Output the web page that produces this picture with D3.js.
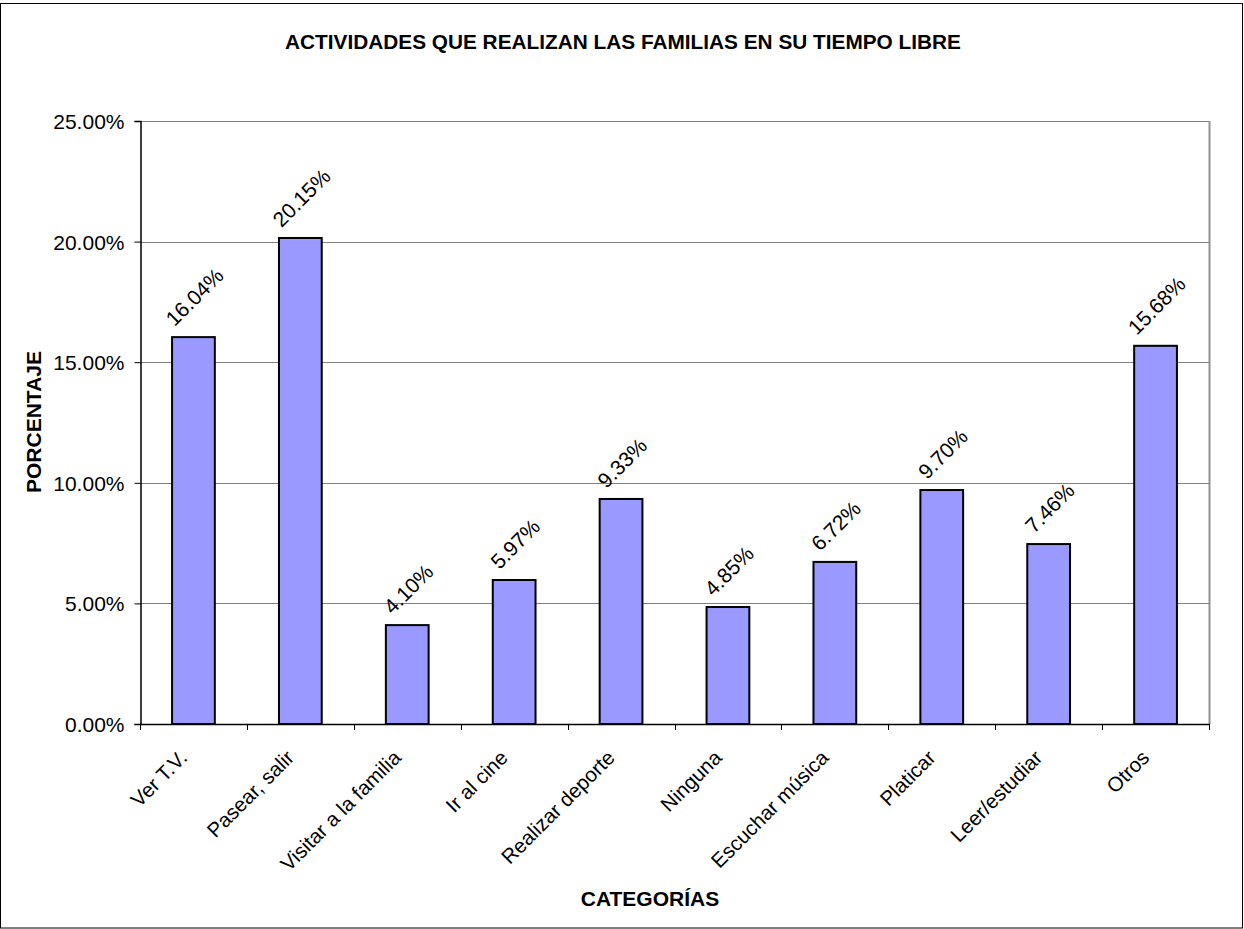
<!DOCTYPE html>
<html><head><meta charset="utf-8">
<script src="https://cdn.jsdelivr.net/npm/d3@7"></script>
<style>body{margin:0;background:#fff}svg{display:block}text{font-family:"Liberation Sans",Arial,sans-serif;fill:#000}</style>
</head><body>
<svg id="c" width="1244" height="929"></svg>
<script>
const categories = ["Ver T.V.","Pasear, salir","Visitar a la familia","Ir al cine","Realizar deporte","Ninguna","Escuchar música","Platicar","Leer/estudiar","Otros"];
const values = [16.04,20.15,4.10,5.97,9.33,4.85,6.72,9.70,7.46,15.68];
const yTicks = [0,5,10,15,20,25];
const title = "ACTIVIDADES QUE REALIZAN LAS FAMILIAS EN SU TIEMPO LIBRE";
const xTitle = "CATEGORÍAS";
const yTitle = "PORCENTAJE";

const svg = d3.select("#c");
const L=140, R=1209, T=121, B=724;
const FS = 21;
const x = d3.scaleBand().domain(categories).range([L,R]).paddingInner(0).paddingOuter(0);
const y = d3.scaleLinear().domain([0,25]).range([B,T]);

svg.append("rect").attr("x",0.5).attr("y",3.5).attr("width",1242).attr("height",924.5)
  .attr("fill","#fff").attr("stroke","#000").attr("stroke-width",1);

// gridlines
svg.append("g").selectAll("line").data(yTicks.slice(1)).join("line")
  .attr("x1",L).attr("x2",R).attr("y1",d=>Math.round(y(d))+0.5).attr("y2",d=>Math.round(y(d))+0.5)
  .attr("stroke","#808080").attr("stroke-width",1);
// right border of plot
svg.append("line").attr("x1",R+0.5).attr("x2",R+0.5).attr("y1",T).attr("y2",B).attr("stroke","#909090").attr("stroke-width",2);

// bars
const bw = x.bandwidth()*0.40;
svg.append("g").selectAll("rect").data(values).join("rect")
  .attr("x",(d,i)=>x(categories[i])+x.bandwidth()/2-bw/2)
  .attr("y",d=>y(d)).attr("width",bw).attr("height",d=>B-y(d))
  .attr("fill","#9999FF").attr("stroke","#000").attr("stroke-width",2);

// y axis
const yAxis = d3.axisLeft(y).tickValues(yTicks).tickSize(6).tickPadding(10).tickFormat(d=>d.toFixed(2)+"%");
const gy = svg.append("g").attr("transform",`translate(${L+0.5},0)`).call(yAxis);
gy.select(".domain").attr("stroke","#000").attr("stroke-width",1.5);
gy.selectAll(".tick line").attr("stroke","#000");
gy.selectAll(".tick text").attr("font-size",FS).attr("fill","#000").attr("dy","0.36em");

// x axis
const xTickPos = categories.map(c=>x(c)).concat([R]);
const gx = svg.append("g");
gx.append("line").attr("x1",L).attr("x2",R+1).attr("y1",B+0.5).attr("y2",B+0.5).attr("stroke","#000").attr("stroke-width",1.5);
gx.selectAll("line.t").data(xTickPos).join("line").attr("class","t")
  .attr("x1",d=>Math.round(d)+0.5).attr("x2",d=>Math.round(d)+0.5).attr("y1",B).attr("y2",B+6).attr("stroke","#000");
gx.selectAll("text").data(categories).join("text")
  .attr("transform",d=>`translate(${x(d)+x.bandwidth()/2-5},${B+35}) rotate(-45)`)
  .attr("text-anchor","end").attr("font-size",20.5).text(d=>d);

// data labels
const lbl = svg.append("g").selectAll("text").data(values).join("text")
  .attr("text-anchor","middle").attr("dominant-baseline","central").attr("font-size",FS)
  .text(d=>d.toFixed(2)+"%");
lbl.each(function(d,i){
  const w=this.getComputedTextLength();
  const cx=x(categories[i])+x.bandwidth()/2+1;
  const cy=y(d)-(w+20)*0.354-8;
  d3.select(this).attr("transform",`translate(${cx},${cy}) rotate(-45)`);
});

// titles
svg.append("text").attr("x",623).attr("y",49).attr("text-anchor","middle").attr("font-size",20.8).attr("font-weight","bold").text(title);
svg.append("text").attr("x",650).attr("y",906).attr("text-anchor","middle").attr("font-size",FS).attr("font-weight","bold").text(xTitle);
svg.append("text").attr("transform",`translate(41,422) rotate(-90)`).attr("text-anchor","middle").attr("font-size",FS).attr("font-weight","bold").text(yTitle);
</script>
</body></html>
